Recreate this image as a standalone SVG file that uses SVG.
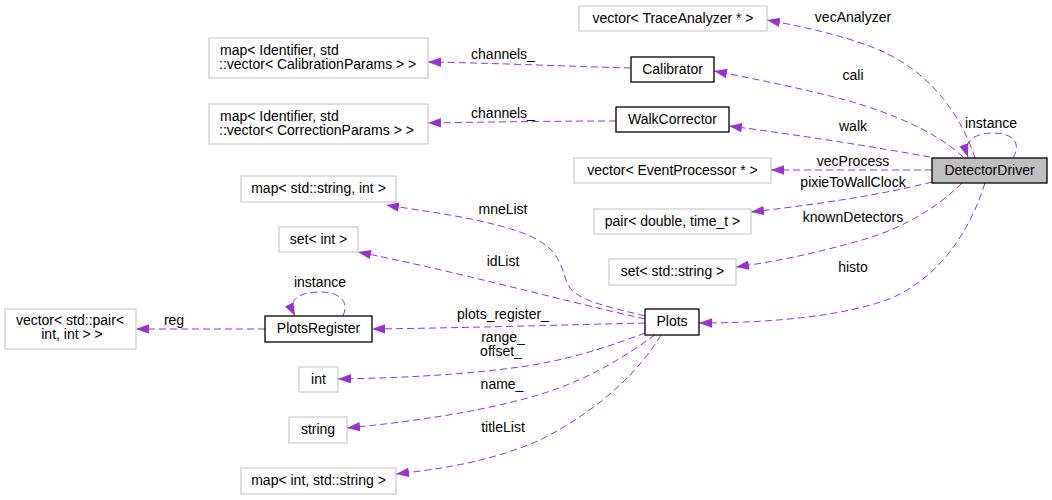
<svg xmlns="http://www.w3.org/2000/svg" width="1052" height="500" viewBox="0 0 1052 500">
<style>
text{font-family:"Liberation Sans",Arial,sans-serif;font-size:14px;fill:#000}
.c{text-anchor:middle}
.g{fill:#fff;stroke:#bfbfbf;stroke-width:1}
.k{fill:#fff;stroke:#000;stroke-width:1.3}
.d{fill:#bfbfbf;stroke:#000;stroke-width:1.3}
.e{fill:none;stroke:#9a32cd;stroke-width:1;stroke-dasharray:7,4;marker-end:url(#ah)}
</style>
<defs>
<marker id="ah" markerUnits="userSpaceOnUse" markerWidth="14" markerHeight="10" refX="13" refY="4.7" orient="auto">
<path d="M0,0 L13,4.7 L0,9.4 Z" fill="#9a32cd"/>
</marker>
</defs>
<rect width="1052" height="500" fill="#fff"/>
<g id="edges">
<path class="e" d="M975,158 C962,118 932,70 872,47 C840,35 805,27 767,20"/>
<path class="e" d="M963,157 C935,130 880,108 830,96 C790,86 750,78 714,71"/>
<path class="e" d="M930,157 C880,148 800,135 729,126"/>
<path class="e" d="M932,170 L771,170"/>
<path class="e" d="M932,182 C880,195 820,204 751,212"/>
<path class="e" d="M962,183 C940,205 905,228 862,240 C820,252 780,261 736,267"/>
<path class="e" d="M985,183 C970,230 942,275 892,298 C840,318 760,323 699,323"/>
<path class="e" d="M1013,158 C1022,142 1012,133 993,133 C977,133 962,140 968,157"/>
<path class="e" d="M631,68 C560,66 490,63 428,62"/>
<path class="e" d="M616,121 C560,121 490,122 428,123"/>
<path class="e" d="M645,316 C605,306 574,300 567,283 C560,262 558,246 520,232 C480,218 430,212 386,205"/>
<path class="e" d="M645,319 C560,300 450,270 358,252"/>
<path class="e" d="M645,323 C560,325 460,328 372,329"/>
<path class="e" d="M343,316 C350,300 338,292 320,292 C302,292 286,298 295,316"/>
<path class="e" d="M265,329 L136,329"/>
<path class="e" d="M645,333 C610,346 570,360 520,367 C460,375 400,378 338,379"/>
<path class="e" d="M655,335 C620,360 580,385 520,400 C470,413 410,422 347,428"/>
<path class="e" d="M661,335 C640,370 600,410 540,440 C490,462 440,469 396,474"/>
<text class="c" x="853" y="22">vecAnalyzer</text>
<text class="c" x="853" y="80">cali</text>
<text class="c" x="853" y="131">walk</text>
<text class="c" x="853" y="166">vecProcess</text>
<text class="c" x="853" y="187">pixieToWallClock</text>
<text class="c" x="853" y="222">knownDetectors</text>
<text class="c" x="853" y="272">histo</text>
<text class="c" x="991" y="128">instance</text>
<text class="c" x="503" y="59">channels_</text>
<text class="c" x="503" y="118">channels_</text>
<text class="c" x="503" y="214">mneList</text>
<text class="c" x="503" y="266">idList</text>
<text class="c" x="503" y="319">plots_register_</text>
<text class="c" x="503" y="342">range_</text>
<text class="c" x="501" y="356">offset_</text>
<text class="c" x="502" y="389">name_</text>
<text class="c" x="503" y="432">titleList</text>
<text class="c" x="320" y="287">instance</text>
<text class="c" x="174" y="325">reg</text>
</g>
<g id="n_traceanalyzer"><rect class="g" x="579" y="6" width="188" height="25"/><text class="c" x="673" y="23">vector&lt; TraceAnalyzer * &gt;</text></g>
<g id="n_calmap"><rect class="g" x="209" y="38" width="219" height="40"/><text x="220" y="55">map&lt; Identifier, std</text><text x="219" y="69">::vector&lt; CalibrationParams &gt; &gt;</text></g>
<g id="n_calibrator"><rect class="k" x="631" y="57" width="83" height="25"/><text class="c" x="672.5" y="74">Calibrator</text></g>
<g id="n_corrmap"><rect class="g" x="209" y="104" width="219" height="40"/><text x="220" y="121">map&lt; Identifier, std</text><text x="219" y="135">::vector&lt; CorrectionParams &gt; &gt;</text></g>
<g id="n_walkcorrector"><rect class="k" x="616" y="107" width="113" height="25"/><text class="c" x="672.5" y="124">WalkCorrector</text></g>
<g id="n_eventprocessor"><rect class="g" x="574" y="158" width="197" height="25"/><text class="c" x="672.5" y="175">vector&lt; EventProcessor * &gt;</text></g>
<g id="n_detectordriver"><rect class="d" x="932" y="158" width="115" height="25"/><text class="c" x="989.5" y="175">DetectorDriver</text></g>
<g id="n_mapstringint"><rect class="g" x="241" y="176" width="155" height="26"/><text class="c" x="318.5" y="193">map&lt; std::string, int &gt;</text></g>
<g id="n_setint"><rect class="g" x="279" y="227" width="79" height="25"/><text class="c" x="318.5" y="244">set&lt; int &gt;</text></g>
<g id="n_pair"><rect class="g" x="594" y="209" width="157" height="25"/><text class="c" x="672.5" y="226">pair&lt; double, time_t &gt;</text></g>
<g id="n_setstring"><rect class="g" x="609" y="259" width="127" height="26"/><text class="c" x="672.5" y="276">set&lt; std::string &gt;</text></g>
<g id="n_vecpair"><rect class="g" x="5" y="309" width="131" height="40"/><text class="c" x="70" y="325">vector&lt; std::pair&lt;</text><text class="c" x="72" y="339">int, int &gt; &gt;</text></g>
<g id="n_plotsregister"><rect class="k" x="265" y="316" width="107" height="26"/><text class="c" x="318.5" y="333">PlotsRegister</text></g>
<g id="n_plots"><rect class="k" x="645" y="309" width="54" height="26"/><text class="c" x="672" y="326">Plots</text></g>
<g id="n_int"><rect class="g" x="299" y="367" width="39" height="25"/><text class="c" x="318.5" y="384">int</text></g>
<g id="n_string"><rect class="g" x="289" y="417" width="58" height="26"/><text class="c" x="318" y="434">string</text></g>
<g id="n_mapintstring"><rect class="g" x="241" y="468" width="155" height="26"/><text class="c" x="318.5" y="485">map&lt; int, std::string &gt;</text></g>
</svg>
